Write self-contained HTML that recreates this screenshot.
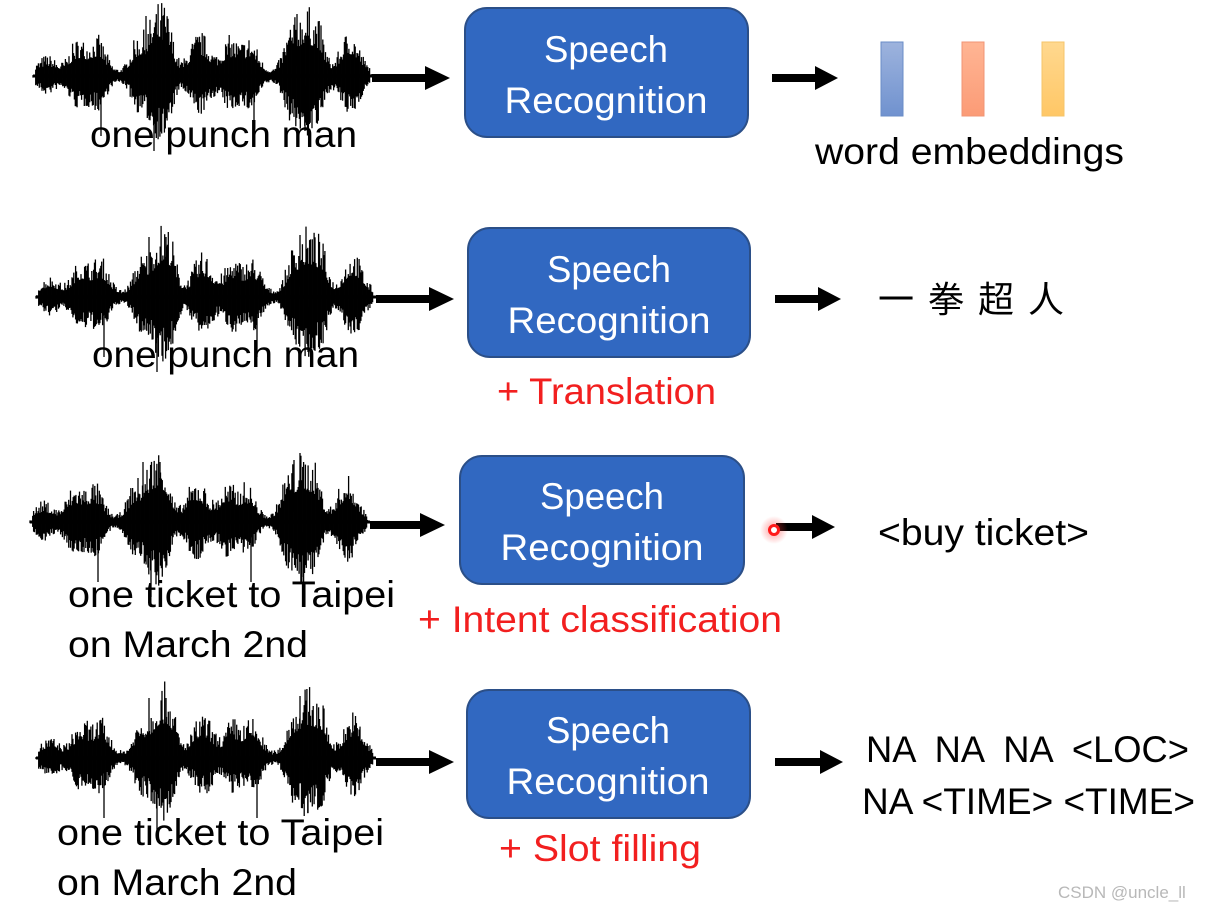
<!DOCTYPE html>
<html><head><meta charset="utf-8"><style>
html,body{margin:0;padding:0;background:#fff;}
svg{display:block;}
text{font-family:"Liberation Sans","Noto Sans CJK SC",sans-serif;}
</style></head><body>
<svg id="s" width="1231" height="911" viewBox="0 0 1231 911" xmlns="http://www.w3.org/2000/svg">
<defs>
<linearGradient id="gb" x1="0" y1="0" x2="0" y2="1"><stop offset="0" stop-color="#9db3dd"/><stop offset="1" stop-color="#7092cf"/></linearGradient>
<linearGradient id="go" x1="0" y1="0" x2="0" y2="1"><stop offset="0" stop-color="#ffb594"/><stop offset="1" stop-color="#fb9b76"/></linearGradient>
<linearGradient id="gy" x1="0" y1="0" x2="0" y2="1"><stop offset="0" stop-color="#ffd88f"/><stop offset="1" stop-color="#ffc766"/></linearGradient>
<radialGradient id="glow"><stop offset="0" stop-color="#ff3030" stop-opacity="0.5"/><stop offset="1" stop-color="#ff3030" stop-opacity="0"/></radialGradient>
</defs>
<g id="waves" stroke="#000" stroke-width="1.3"></g>

<g fill="#000">
<rect x="372" y="74" width="55" height="8"/><polygon points="425,66 450,78 425,90"/>
<rect x="376" y="295" width="55" height="8"/><polygon points="429,287 454,299 429,311"/>
<rect x="370" y="521" width="52" height="8"/><polygon points="420,513 445,525 420,537"/>
<rect x="376" y="758" width="55" height="8"/><polygon points="429,750 454,762 429,774"/>
<rect x="772" y="74" width="45" height="8"/><polygon points="815,66 838,78 815,90"/>
<rect x="775" y="295" width="45" height="8"/><polygon points="818,287 841,299 818,311"/>
<rect x="776" y="523" width="38" height="8"/><polygon points="812,515 835,527 812,539"/>
<rect x="775" y="758" width="45" height="8"/><polygon points="820,750 843,762 820,774"/>
</g>
<circle cx="774" cy="530" r="14" fill="url(#glow)"/>
<circle cx="774" cy="530" r="4.5" fill="#fff" stroke="#ff1a1a" stroke-width="3"/>

<g fill="#3168c1" stroke="#2b4f88" stroke-width="2">
<rect x="465" y="8" width="283" height="129" rx="22"/>
<rect x="468" y="228" width="282" height="129" rx="22"/>
<rect x="460" y="456" width="284" height="128" rx="22"/>
<rect x="467" y="690" width="283" height="128" rx="22"/>
</g>
<g fill="#fff" font-size="37" text-anchor="middle" lengthAdjust="spacingAndGlyphs">
<text x="606" y="62" textLength="124" lengthAdjust="spacingAndGlyphs">Speech</text><text x="606" y="113" textLength="203" lengthAdjust="spacingAndGlyphs">Recognition</text>
<text x="609" y="282" textLength="124" lengthAdjust="spacingAndGlyphs">Speech</text><text x="609" y="333" textLength="203" lengthAdjust="spacingAndGlyphs">Recognition</text>
<text x="602" y="509" textLength="124" lengthAdjust="spacingAndGlyphs">Speech</text><text x="602" y="560" textLength="203" lengthAdjust="spacingAndGlyphs">Recognition</text>
<text x="608" y="743" textLength="124" lengthAdjust="spacingAndGlyphs">Speech</text><text x="608" y="794" textLength="203" lengthAdjust="spacingAndGlyphs">Recognition</text>
</g>

<rect x="881" y="42" width="22" height="74" fill="url(#gb)" stroke="#6a8cc7" stroke-width="1"/>
<rect x="962" y="42" width="22" height="74" fill="url(#go)" stroke="#f09474" stroke-width="1"/>
<rect x="1042" y="42" width="22" height="74" fill="url(#gy)" stroke="#f5c46a" stroke-width="1"/>

<g fill="#000" font-size="37">
<text x="90" y="147" textLength="267" lengthAdjust="spacingAndGlyphs">one punch man</text>
<text x="815" y="164" textLength="309" lengthAdjust="spacingAndGlyphs">word embeddings</text>
<text x="92" y="367" textLength="267" lengthAdjust="spacingAndGlyphs">one punch man</text>
<text x="878" y="312" font-size="36" letter-spacing="14">一拳超人</text>
<text x="878" y="545" textLength="211" lengthAdjust="spacingAndGlyphs">&lt;buy ticket&gt;</text>
<text x="68" y="607" textLength="327" lengthAdjust="spacingAndGlyphs">one ticket to Taipei</text>
<text x="68" y="657" textLength="240" lengthAdjust="spacingAndGlyphs">on March 2nd</text>
<text x="57" y="845" textLength="327" lengthAdjust="spacingAndGlyphs">one ticket to Taipei</text>
<text x="57" y="895" textLength="240" lengthAdjust="spacingAndGlyphs">on March 2nd</text>
<text x="866" y="762" textLength="323" lengthAdjust="spacingAndGlyphs" xml:space="preserve">NA  NA  NA  &lt;LOC&gt;</text>
<text x="862" y="814" textLength="333" lengthAdjust="spacingAndGlyphs">NA &lt;TIME&gt; &lt;TIME&gt;</text>
</g>
<g fill="#f21f1f" font-size="37">
<text x="497" y="404" textLength="219" lengthAdjust="spacingAndGlyphs">+ Translation</text>
<text x="418" y="632" textLength="364" lengthAdjust="spacingAndGlyphs">+ Intent classification</text>
<text x="499" y="861" textLength="202" lengthAdjust="spacingAndGlyphs">+ Slot filling</text>
</g>
<text x="1058" y="898" font-size="17" fill="#b8b8b8">CSDN @uncle_ll</text>
</svg>
<script>
(function(){
var g=document.getElementById('waves');
var bumps=[[14,16,12],[45,32,12],[65,34,11],[105,35,10],[122,55,10],[134,50,9],[167,40,14],[197,34,11],[217,34,11],[258,45,10],[272,55,9],[285,48,9],[317,42,13]];
var rows=[[33,76],[36,297],[30,522],[36,758]];
var seed=7;function r(){seed=(seed*16807)%2147483647;return seed/2147483647;}
var out='';
rows.forEach(function(rw){
 var x0=rw[0],cy=rw[1];
 out+='<line x1="'+x0+'" y1="'+cy+'" x2="'+(x0+340)+'" y2="'+cy+'" stroke-width="3"/>';
 for(var i=0;i<=340;i+=0.9){
  var a=6;
  bumps.forEach(function(b){var d=(i-b[0])/b[2];a+=b[1]*Math.exp(-d*d);});
  if(i>337||i<2)a=2;
  var q=r();
  var up=a*(0.45+0.55*q*q),dn=a*(0.45+0.55*r())*0.85;
  out+='<line x1="'+(x0+i).toFixed(1)+'" y1="'+(cy-up).toFixed(1)+'" x2="'+(x0+i).toFixed(1)+'" y2="'+(cy+dn).toFixed(1)+'"/>';
 }
 [[68,-10,60],[113,-60,-10],[121,10,75],[221,-10,60],[264,-62,-10],[272,10,55],[130,-60,0]].forEach(function(s){
  out+='<line x1="'+(x0+s[0])+'" y1="'+(cy+s[1])+'" x2="'+(x0+s[0])+'" y2="'+(cy+s[2])+'"/>';
 });
});
g.innerHTML=out;
})();
</script>
</body></html>
